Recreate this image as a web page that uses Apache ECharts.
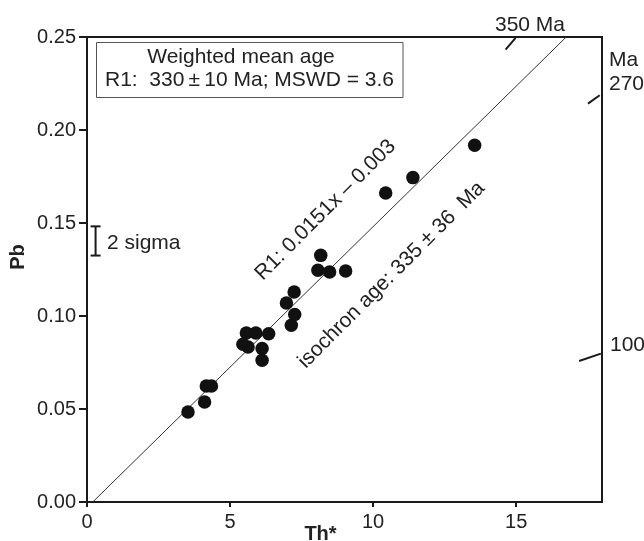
<!DOCTYPE html>
<html>
<head>
<meta charset="utf-8">
<script src="https://cdn.jsdelivr.net/npm/echarts@6/dist/echarts.min.js"></script>
<style>html,body{margin:0;padding:0;background:#fff;}#c{width:644px;height:541px;}</style>
</head>
<body>
<div id="c"></div>
<script>
// Data
const thStar = [13.55, 11.39, 10.44, 8.17, 8.07, 8.48, 9.04, 7.24, 6.97, 7.26, 7.14, 5.57, 5.90, 6.35, 5.45, 5.63, 6.12, 6.12, 4.17, 4.35, 4.11, 3.53];
const pb     = [0.1918, 0.1744, 0.1661, 0.1326, 0.1246, 0.1237, 0.1242, 0.1129, 0.1070, 0.1008, 0.0950, 0.0909, 0.0909, 0.0905, 0.0848, 0.0833, 0.0825, 0.0762, 0.0624, 0.0624, 0.0538, 0.0484];
// R1 regression line end points (y = 0.0151x - 0.003)
const lineX = [0.2, 16.75];
const lineY = [0.0, 0.25];
// age tick marks on reference isochrons: [x1, y1, x2, y2]
const ageTicks = [
  [14.63, 0.2432, 14.98, 0.2495],
  [17.51, 0.2142, 17.92, 0.2187],
  [17.20, 0.0758, 17.96, 0.0798]
];
// 2 sigma error bar: [x, low, high]
const sigmaBar = [[0.30, 0.1325, 0.1482]];
const xTicks = [0, 5, 10, 15];
const yTicks = [0, 0.05, 0.10, 0.15, 0.20, 0.25];

const FONT = 'Liberation Sans, Arial, Helvetica, sans-serif';
const TXT = '#222';
const AF = '21px ' + FONT;

const chart = echarts.init(document.getElementById('c'), null, {renderer: 'canvas'});
const option = {
  animation: false,
  backgroundColor: '#fff',
  grid: {left: 87, right: 42, top: 37, bottom: 39, show: true, borderColor: '#1a1a1a', borderWidth: 2,
    containLabel: false, outerBoundsMode: 'none'},
  xAxis: {
    type: 'value', min: 0, max: 18, interval: 5,
    name: 'Th*', nameLocation: 'middle', nameGap: 22, nameMoveOverlap: false,
    nameTextStyle: {fontFamily: FONT, fontSize: 20, fontWeight: 'bold', color: TXT, padding: [0, 48, 0, 0]},
    axisLine: {show: true, lineStyle: {color: '#1a1a1a', width: 2}},
    axisTick: {show: true, length: 5, lineStyle: {color: '#1a1a1a', width: 2}, customValues: xTicks},
    axisLabel: {fontFamily: FONT, fontSize: 20, color: TXT, margin: 10, customValues: xTicks},
    splitLine: {show: false}
  },
  yAxis: {
    type: 'value', min: 0, max: 0.25, interval: 0.05,
    name: 'Pb', nameLocation: 'middle', nameGap: 59, nameRotate: 90, nameMoveOverlap: false,
    nameTextStyle: {fontFamily: FONT, fontSize: 20, fontWeight: 'bold', color: TXT, padding: [0, 0, 0, 25]},
    axisLine: {show: true, lineStyle: {color: '#1a1a1a', width: 2}},
    axisTick: {show: true, length: 8, lineStyle: {color: '#1a1a1a', width: 2}, customValues: yTicks},
    axisLabel: {fontFamily: FONT, fontSize: 20, color: TXT, margin: 11, customValues: yTicks,
      formatter: v => v.toFixed(2)},
    splitLine: {show: false}
  },
  series: [
    {
      type: 'line', data: lineX.map((x, i) => [x, lineY[i]]),
      symbol: 'none', lineStyle: {color: '#333', width: 1}, z: 2, silent: true
    },
    {
      type: 'scatter', data: thStar.map((x, i) => [x, pb[i]]),
      symbol: 'circle', symbolSize: 13.5, itemStyle: {color: '#111', opacity: 1}, z: 3
    },
    {
      type: 'custom', data: ageTicks, clip: false, z: 4,
      renderItem: (params, api) => {
        const p1 = api.coord([api.value(0), api.value(1)]);
        const p2 = api.coord([api.value(2), api.value(3)]);
        return {type: 'line', shape: {x1: p1[0], y1: p1[1], x2: p2[0], y2: p2[1]},
          style: {stroke: '#1a1a1a', lineWidth: 2}};
      }
    },
    {
      type: 'custom', data: sigmaBar, clip: false, z: 4,
      renderItem: (params, api) => {
        const top = api.coord([api.value(0), api.value(2)]);
        const bot = api.coord([api.value(0), api.value(1)]);
        const w = 5;
        const st = {stroke: '#1a1a1a', lineWidth: 2};
        return {type: 'group', children: [
          {type: 'line', shape: {x1: top[0], y1: top[1], x2: bot[0], y2: bot[1]}, style: st},
          {type: 'line', shape: {x1: top[0] - w, y1: top[1], x2: top[0] + w, y2: top[1]}, style: st},
          {type: 'line', shape: {x1: bot[0] - w, y1: bot[1], x2: bot[0] + w, y2: bot[1]}, style: st}
        ]};
      }
    }
  ],
  graphic: [
    {type: 'rect', shape: {x: 96.5, y: 42.5, width: 306.5, height: 55}, style: {fill: '#fff', stroke: '#555', lineWidth: 1}, z: 10},
    {type: 'text', x: 241, y: 57, z: 11, style: {text: 'Weighted mean age', font: AF, fill: TXT, textAlign: 'center', textVerticalAlign: 'middle'}},
    {type: 'text', x: 249.5, y: 80, z: 11, style: {text: 'R1:  330\u2009±\u200910 Ma; MSWD = 3.6', font: AF, fill: TXT, textAlign: 'center', textVerticalAlign: 'middle'}},
    {type: 'text', x: 107, y: 243, z: 11, style: {text: '2 sigma', font: AF, fill: TXT, textAlign: 'left', textVerticalAlign: 'middle'}},
    {type: 'text', x: 325.5, y: 210, rotation: Math.PI / 4, z: 11, style: {text: 'R1: 0.0151x \u2013 0.003', font: AF, fill: TXT, textAlign: 'center', textVerticalAlign: 'middle'}},
    {type: 'text', x: 391.5, y: 275, rotation: Math.PI / 4, z: 11, style: {text: 'isochron age: 335 ± 36  Ma', font: AF, fill: TXT, textAlign: 'center', textVerticalAlign: 'middle'}},
    {type: 'text', x: 530, y: 25, z: 11, style: {text: '350 Ma', font: AF, fill: TXT, textAlign: 'center', textVerticalAlign: 'middle'}},
    {type: 'text', x: 609, y: 60, z: 11, style: {text: 'Ma', font: AF, fill: TXT, textAlign: 'left', textVerticalAlign: 'middle'}},
    {type: 'text', x: 609, y: 84, z: 11, style: {text: '270', font: AF, fill: TXT, textAlign: 'left', textVerticalAlign: 'middle'}},
    {type: 'text', x: 610, y: 345, z: 11, style: {text: '100', font: AF, fill: TXT, textAlign: 'left', textVerticalAlign: 'middle'}}
  ]
};
chart.setOption(option);
</script>
</body>
</html>
